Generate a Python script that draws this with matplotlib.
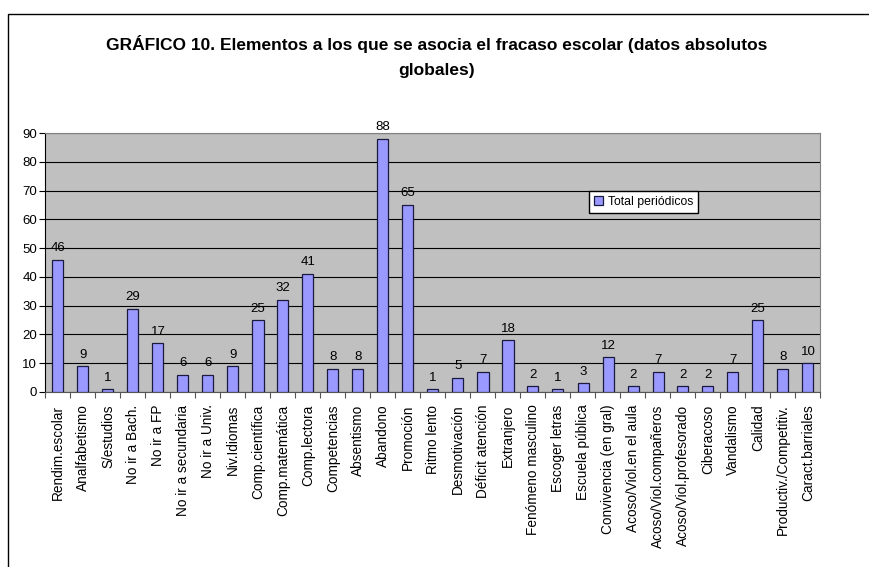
import matplotlib.pyplot as plt
from matplotlib.patches import Rectangle

plt.rcParams['font.family'] = ['Liberation Sans', 'DejaVu Sans']

categorias = ['Rendim.escolar', 'Analfabetismo', 'S/estudios', 'No ir a Bach.', 'No ir a FP',
              'No ir a secundaria', 'No ir a Univ.', 'Niv.Idiomas', 'Comp.científica',
              'Comp.matemática', 'Comp.lectora', 'Competencias', 'Absentismo', 'Abandono',
              'Promoción', 'Ritmo lento', 'Desmotivación', 'Déficit atención', 'Extranjero',
              'Fenómeno masculino', 'Escoger letras', 'Escuela pública', 'Convivencia (en gral)',
              'Acoso/Viol.en el aula', 'Acoso/Viol.compañeros', 'Acoso/Viol.profesorado',
              'Ciberacoso', 'Vandalismo', 'Calidad', 'Productiv./Competitiv.', 'Caract.barriales']
valores = [46, 9, 1, 29, 17, 6, 6, 9, 25, 32, 41, 8, 8, 88, 65, 1, 5, 7, 18, 2, 1, 3, 12,
           2, 7, 2, 2, 7, 25, 8, 10]
yticks = [0, 10, 20, 30, 40, 50, 60, 70, 80, 90]

fig = plt.figure(figsize=(8.7, 5.67), dpi=100)
ax = fig.add_axes([45.5/870, 1-392/567, 775/870, 259/567])

# marco exterior del gráfico
fig.patches.append(Rectangle((8.5/870, -0.1), 1.2, 1.1 - 13.5/567, transform=fig.transFigure,
                             fill=False, edgecolor='black', linewidth=1.0))

x = list(range(len(categorias)))
bars = ax.bar(x, valores, width=0.44, color='#9999FF', edgecolor='#1a1a40', linewidth=0.9,
              label='Total periódicos', zorder=3)
for xi, v in zip(x, valores):
    ax.annotate(str(v), (xi, v), xytext=(0, 4), textcoords='offset points',
                ha='center', va='bottom', fontsize=9.5)

ax.set_facecolor('#C0C0C0')
ax.set_xlim(-0.5, len(categorias) - 0.5)
ax.set_ylim(0, 90)
ax.set_yticks(yticks)
ax.tick_params(axis='y', labelsize=9.5, length=4, width=0.8, direction='out', pad=2)
ax.yaxis.grid(True, color='black', linewidth=0.8, zorder=0)
ax.set_axisbelow(True)

ax.set_xticks(x)
ax.set_xticklabels(categorias, rotation=90, fontsize=9.8)
ax.tick_params(axis='x', length=0, pad=9)
ax.set_xticks([i - 0.5 for i in range(len(categorias) + 1)], minor=True)
ax.tick_params(axis='x', which='minor', length=4, width=0.8, color='#555555')

for s in ['top', 'right']:
    ax.spines[s].set_color('#808080')
ax.spines['left'].set_color('black')
ax.spines['bottom'].set_color('#555555')

ax.legend(loc='upper left', bbox_to_anchor=(544/775, 1-58/259), fontsize=8.8, frameon=True,
          fancybox=False, edgecolor='black', framealpha=1, handlelength=0.7, handleheight=0.7,
          borderpad=0.4, handletextpad=0.4, borderaxespad=0)

fig.text(437/870, 1-44/567, 'GRÁFICO 10. Elementos a los que se asocia el fracaso escolar (datos absolutos',
         ha='center', va='center', fontsize=12.5, fontweight='bold')
fig.text(437/870, 1-70/567, 'globales)', ha='center', va='center', fontsize=12.5, fontweight='bold')

fig.savefig('out.png', dpi=100)
